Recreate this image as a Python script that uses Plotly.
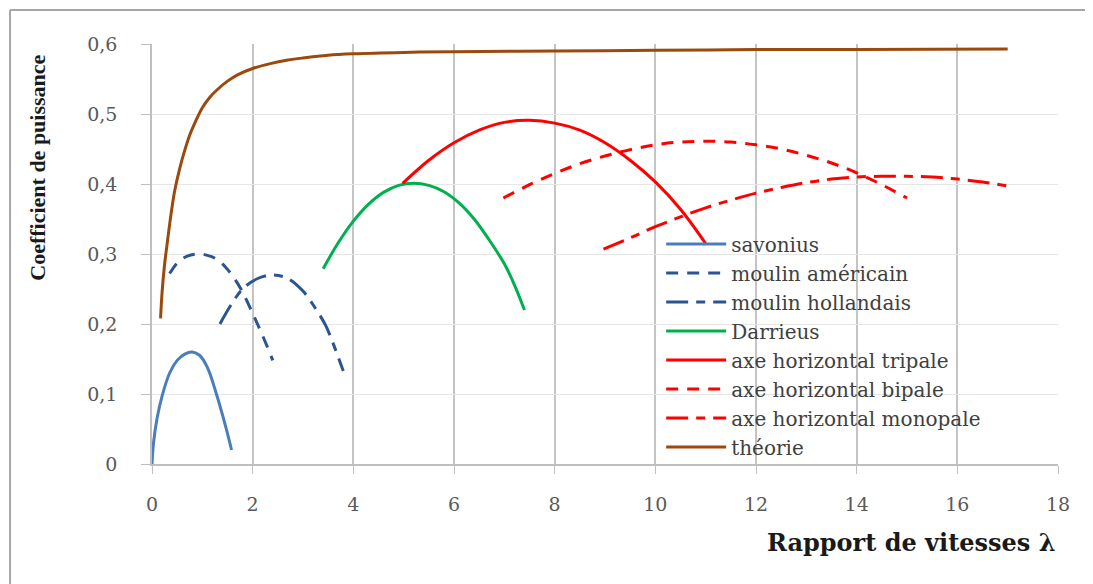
import plotly.graph_objects as go

# ---- data ----
savonius_x = [0, 0.03, 0.1, 0.2, 0.35, 0.5, 0.65, 0.8, 0.95, 1.1, 1.28, 1.48, 1.58]
savonius_y = [0, 0.03, 0.065, 0.097, 0.13, 0.148, 0.157, 0.16, 0.155, 0.138, 0.1, 0.049, 0.02]

americain_x = [0.35, 0.5, 0.7, 0.9, 1.1, 1.3, 1.5, 1.75, 2.0, 2.2, 2.4]
americain_y = [0.272, 0.287, 0.297, 0.300, 0.298, 0.292, 0.278, 0.252, 0.215, 0.183, 0.148]

hollandais_x = [1.35, 1.55, 1.8, 2.1, 2.4, 2.7, 3.0, 3.25, 3.45, 3.6, 3.8]
hollandais_y = [0.200, 0.225, 0.250, 0.265, 0.270, 0.265, 0.247, 0.222, 0.198, 0.172, 0.133]

darrieus_x = [3.4, 3.7, 4.0, 4.3, 4.6, 4.9, 5.2, 5.5, 5.8, 6.1, 6.4, 6.7, 7.0, 7.2, 7.4]
darrieus_y = [0.279, 0.316, 0.347, 0.371, 0.388, 0.398, 0.401, 0.398, 0.389, 0.373, 0.350, 0.320, 0.286, 0.256, 0.220]

tripale_x = [4.98, 5.5, 6.0, 6.5, 7.0, 7.5, 8.0, 8.5, 9.0, 9.5, 10.0, 10.5, 11.0]
tripale_y = [0.401, 0.434, 0.459, 0.477, 0.488, 0.491, 0.487, 0.477, 0.459, 0.434, 0.403, 0.364, 0.315]

bipale_x = [6.98, 7.5, 8.0, 8.5, 9.0, 9.5, 10.0, 10.5, 11.0, 11.5, 12.0, 12.5, 13.0, 13.5, 14.0, 14.5, 15.0]
bipale_y = [0.380, 0.399, 0.415, 0.429, 0.440, 0.449, 0.456, 0.460, 0.461, 0.460, 0.456, 0.450, 0.441, 0.430, 0.416, 0.399, 0.380]

monopale_x = [8.97, 9.5, 10.0, 10.5, 11.0, 11.5, 12.0, 12.5, 13.0, 13.5, 14.0, 14.5, 15.0, 15.5, 16.0, 16.5, 17.0]
monopale_y = [0.307, 0.323, 0.339, 0.353, 0.366, 0.377, 0.387, 0.395, 0.402, 0.407, 0.410, 0.411, 0.411, 0.410, 0.407, 0.403, 0.397]

theorie_x = [0.17, 0.2, 0.25, 0.3, 0.38, 0.45, 0.55, 0.65, 0.75, 0.85, 1.0, 1.15, 1.3, 1.5, 1.7, 2.0, 2.35, 2.7,
             3.0, 3.5, 4.0, 5.0, 6.0, 8.0, 10.0, 12.0, 14.0, 17.0]
theorie_y = [0.208, 0.245, 0.285, 0.314, 0.358, 0.390, 0.422, 0.448, 0.470, 0.487, 0.509, 0.524, 0.535, 0.547, 0.556,
             0.565, 0.572, 0.577, 0.580, 0.584, 0.586, 0.588, 0.589, 0.590, 0.591, 0.592, 0.592, 0.593]

x_ticks = [0, 2, 4, 6, 8, 10, 12, 14, 16, 18]
y_ticks = [0, 0.1, 0.2, 0.3, 0.4, 0.5, 0.6]

series = [
    ("savonius", savonius_x, savonius_y, "#4a7ebb", "solid"),
    ("moulin américain", americain_x, americain_y, "#2a5590", "12px,9px"),
    ("moulin hollandais", hollandais_x, hollandais_y, "#2a5590", "22px,8px,9px,8px"),
    ("Darrieus", darrieus_x, darrieus_y, "#00b050", "solid"),
    ("axe horizontal tripale", tripale_x, tripale_y, "#ff0000", "solid"),
    ("axe horizontal bipale", bipale_x, bipale_y, "#ff0000", "12px,9px"),
    ("axe horizontal monopale", monopale_x, monopale_y, "#ff0000", "22px,8px,9px,8px"),
    ("théorie", theorie_x, theorie_y, "#9a4a0c", "solid"),
]

fig = go.Figure()
for name, xs, ys, col, dash in series:
    fig.add_trace(go.Scatter(
        x=xs, y=ys, name=name, mode="lines",
        line=dict(color=col, width=3, dash=dash, shape="spline", smoothing=1.0),
    ))

serif = "DejaVu Serif"
tick_font = dict(family=serif, size=19, color="#595959")

fig.update_layout(
    width=1085, height=576,
    margin=dict(l=144, r=35, t=36, b=120),
    paper_bgcolor="white", plot_bgcolor="white",
    separators=", ",
    showlegend=True,
    legend=dict(
        x=0.562, y=0.57, xanchor="left", yanchor="top",
        bgcolor="rgba(0,0,0,0)", borderwidth=0,
        font=dict(family=serif, size=20, color="#404040"),
        itemwidth=60, tracegroupgap=0,
    ),
    xaxis=dict(
        range=[0, 18], tickvals=x_ticks, ticktext=[str(v) for v in x_ticks],
        showgrid=True, gridcolor="#c4c4c4", gridwidth=1.5,
        showline=True, linecolor="#bfbfbf", linewidth=1.5,
        ticks="outside", ticklen=8, tickcolor="#bfbfbf",
        ticklabelstandoff=14,
        tickfont=tick_font, zeroline=False, fixedrange=True,
    ),
    yaxis=dict(
        range=[0, 0.6], tickvals=y_ticks,
        showgrid=True, gridcolor="#e6e6e6", gridwidth=1,
        showline=True, linecolor="#bfbfbf", linewidth=1.5,
        ticks="outside", ticklen=9, tickcolor="#bfbfbf",
        ticklabelstandoff=20,
        tickfont=tick_font, zeroline=False, fixedrange=True,
    ),
    annotations=[
        dict(text="Coefficient de puissance", textangle=-90,
             xref="paper", yref="paper", x=-0.126, y=0.705,
             xanchor="center", yanchor="middle", showarrow=False,
             font=dict(family="Liberation Serif", size=22, color="#1a1a1a", weight="bold")),
        dict(text="Rapport de vitesses λ",
             xref="paper", yref="paper", x=1.0, y=-0.186,
             xanchor="right", yanchor="middle", showarrow=False,
             font=dict(family=serif, size=24, color="#1a1a1a", weight="bold")),
    ],
    shapes=[
        dict(type="line", xref="paper", yref="paper", x0=-0.1567, x1=1.04, y0=1.081, y1=1.081,
             line=dict(color="#a6a6a6", width=2)),
        dict(type="line", xref="paper", yref="paper", x0=-0.1567, x1=-0.1567, y0=1.081, y1=-0.29,
             line=dict(color="#a6a6a6", width=2)),
    ],
)

fig.write_html("out.html")
